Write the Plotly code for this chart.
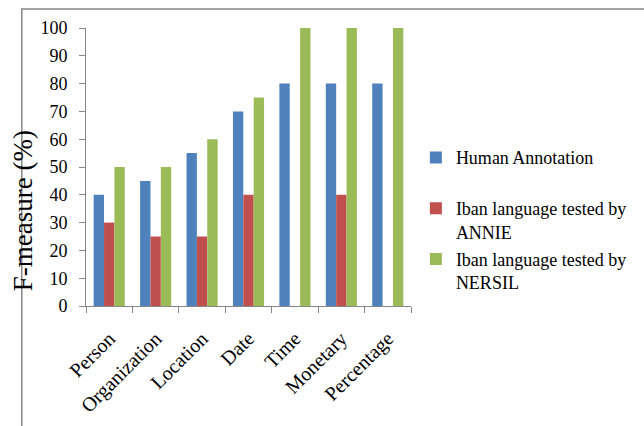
import plotly.graph_objects as go

categories = ["Person", "Organization", "Location", "Date", "Time", "Monetary", "Percentage"]
human_annotation = [40, 45, 55, 70, 80, 80, 80]
annie = [30, 25, 25, 40, 0, 40, 0]
nersil = [50, 50, 60, 75, 100, 100, 100]
series_names = ["Human Annotation<br> ", "Iban language tested by<br>ANNIE", "Iban language tested by<br>NERSIL"]
series_colors = ["#4F81BD", "#C0504D", "#9BBB59"]
y_ticks = [0, 10, 20, 30, 40, 50, 60, 70, 80, 90, 100]
grid_ticks = [10, 20, 30, 40, 50, 60, 90]

FONT = "Liberation Serif, Times New Roman, serif"
GRAY = "#878787"

fig = go.Figure()
for name, vals, col in zip(series_names, [human_annotation, annie, nersil], series_colors):
    fig.add_trace(go.Bar(x=categories, y=vals, name=name, marker=dict(color=col, line=dict(width=0)),
                         legendgroup=name))

fig.update_layout(
    width=644, height=426,
    margin=dict(l=86, r=229, t=28, b=120),
    paper_bgcolor="white", plot_bgcolor="white",
    barmode="group", bargap=0.33, bargroupgap=0,
    font=dict(family=FONT, color="black"),
    xaxis=dict(type="category", showgrid=False, showline=True, linecolor=GRAY, linewidth=1,
               ticks="outside", tickson="boundaries", ticklen=6, tickcolor=GRAY,
               tickangle=-45, tickfont=dict(size=20, family=FONT), ticklabelstandoff=12,
               range=[-0.5, 6.5], automargin=False),
    yaxis=dict(range=[0, 100], tickvals=y_ticks, showgrid=False, showline=True, linecolor=GRAY,
               linewidth=1, ticks="outside", ticklen=6, tickcolor=GRAY,
               tickfont=dict(size=18, family=FONT), ticklabelstandoff=8, zeroline=False,
               automargin=False),
    yaxis2=dict(range=[0, 100], overlaying="y", tickvals=grid_ticks, showgrid=True, gridcolor=GRAY,
                gridwidth=1, showticklabels=False, showline=False, ticks="", zeroline=False,
                automargin=False),
    legend=dict(x=1.015, y=0.60, xanchor="left", yanchor="top", valign="top",
                font=dict(size=18, family=FONT), traceorder="grouped", tracegroupgap=1,
                bgcolor="rgba(0,0,0,0)"),
    showlegend=True,
)

fig.add_annotation(text="F-measure (%)", textangle=-90, xref="paper", yref="paper",
                   x=-0.193, y=0.342, xanchor="center", yanchor="middle", showarrow=False,
                   font=dict(size=27, family=FONT))

fig.add_shape(type="rect", xref="paper", yref="paper", x0=-0.1976, x1=2.5, y0=-1.0, y1=1.068,
              line=dict(color=GRAY, width=1.5), fillcolor="rgba(0,0,0,0)", layer="below")

fig.write_html("out.html", config={"displayModeBar": False},
               post_script="document.body.style.margin='0';document.body.style.overflow='hidden';")
